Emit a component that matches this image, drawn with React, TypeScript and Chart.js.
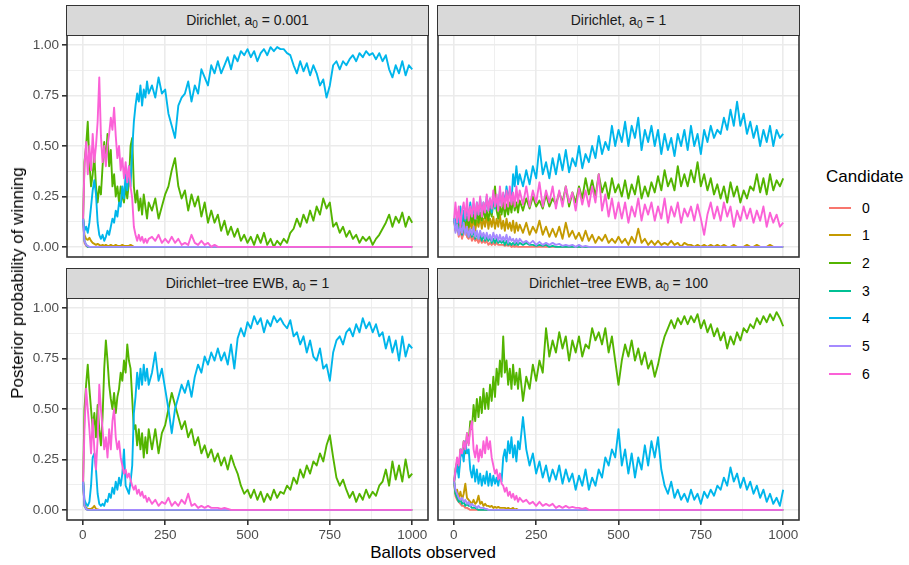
import React, { useEffect, useRef } from "react";
import { Chart, registerables } from "chart.js";

Chart.register(...registerables);

const FONT = '"Liberation Sans", Arial, Helvetica, sans-serif';

const CANDIDATES = ["0", "1", "2", "3", "4", "5", "6"];
const COLORS = ["#F8766D", "#C49A00", "#53B400", "#00C094", "#00B6EB", "#A58AFF", "#FB61D7"];

// ballots at which the posterior is sampled (dense early on)
const BALLOTS = [
  1, 5, 10, 15, 20, 25, 30, 35, 40, 45, 50, 55, 60, 65, 70, 75, 80, 85, 90, 95,
  100, 105, 110, 115, 120, 125, 130, 135, 140, 145, 150, 155, 160, 165, 170, 175, 180, 185, 190, 195, 200,
  210, 220, 230, 240, 250, 260, 270, 280, 290, 300,
  310, 320, 330, 340, 350, 360, 370, 380, 390, 400,
  410, 420, 430, 440, 450, 460, 470, 480, 490, 500,
  510, 520, 530, 540, 550, 560, 570, 580, 590, 600,
  610, 620, 630, 640, 650, 660, 670, 680, 690, 700,
  710, 720, 730, 740, 750, 760, 770, 780, 790, 800,
  810, 820, 830, 840, 850, 860, 870, 880, 890, 900,
  910, 920, 930, 940, 950, 960, 970, 980, 990, 1000,
];
const LAST_BALLOT = 1000;

const X_TICKS = [0, 125, 250, 375, 500, 625, 750, 875, 1000];
const X_LABELED = [0, 250, 500, 750, 1000];
const Y_TICKS = [0, 0.125, 0.25, 0.375, 0.5, 0.625, 0.75, 0.875, 1];
const Y_LABELED = [0, 0.25, 0.5, 0.75, 1];

// ---------- Dirichlet, a0 = 0.001 ----------
const tl0 = [0.14, 0.02, 0.005, 0];
const tl1 = [0.14, 0.06, 0.04, 0.035, 0.045, 0.03, 0.02, 0.015, 0.01, 0.015, 0.01, 0.005, 0.01, 0.005, 0.01, 0.005, 0.005, 0.01, 0.005, 0.005, 0.01, 0.005, 0.005, 0.005, 0.01, 0.005, 0.005, 0.005, 0.005, 0.01, 0.005, 0];
const tl2 = [
  0.14, 0.42, 0.5, 0.62, 0.42, 0.3, 0.36, 0.45, 0.3, 0.22, 0.3, 0.26, 0.4, 0.52, 0.42, 0.56, 0.4, 0.48, 0.3, 0.36,
  0.25, 0.3, 0.22, 0.3, 0.25, 0.22, 0.3, 0.24, 0.32, 0.5, 0.54, 0.3, 0.22, 0.28, 0.18, 0.24, 0.16, 0.26, 0.2, 0.14, 0.22,
  0.18, 0.24, 0.14, 0.2, 0.26, 0.3, 0.38, 0.44, 0.3, 0.24,
  0.28, 0.18, 0.26, 0.2, 0.25, 0.15, 0.22, 0.12, 0.18, 0.12,
  0.16, 0.08, 0.13, 0.06, 0.1, 0.05, 0.09, 0.03, 0.06, 0.02,
  0.05, 0.01, 0.06, 0.02, 0.07, 0.01, 0.04, 0.0, 0.03, 0.01,
  0.04, 0.02, 0.07, 0.09, 0.14, 0.1, 0.16, 0.12, 0.18, 0.13,
  0.2, 0.16, 0.24, 0.19, 0.22, 0.1, 0.12, 0.07, 0.1, 0.05,
  0.08, 0.04, 0.06, 0.02, 0.05, 0.03, 0.05, 0.01, 0.04, 0.06,
  0.09, 0.12, 0.16, 0.1, 0.15, 0.12, 0.17, 0.1, 0.15, 0.12,
];
const tl3 = [0.14, 0.03, 0.01, 0];
const tl4 = [
  0.14, 0.08, 0.1, 0.07, 0.12, 0.2, 0.28, 0.33, 0.26, 0.12, 0.06, 0.04, 0.06, 0.03, 0.05, 0.08, 0.06, 0.1, 0.14, 0.12,
  0.18, 0.15, 0.22, 0.2, 0.3, 0.24, 0.36, 0.28, 0.4, 0.3, 0.48, 0.62, 0.7, 0.76, 0.72, 0.8, 0.7, 0.78, 0.74, 0.82, 0.76,
  0.8, 0.74, 0.84, 0.76, 0.78, 0.66, 0.6, 0.54, 0.7, 0.74,
  0.76, 0.82, 0.72, 0.8, 0.76, 0.88, 0.84, 0.8, 0.9, 0.86,
  0.92, 0.86, 0.9, 0.94, 0.88, 0.95, 0.92, 0.97, 0.95, 0.98,
  0.94, 0.97, 0.92, 0.96, 0.98, 0.95, 0.99, 0.97, 0.99, 0.98,
  0.98, 0.96, 0.95, 0.9, 0.86, 0.92, 0.87, 0.91, 0.85, 0.9,
  0.86, 0.8, 0.83, 0.74, 0.8, 0.9, 0.92, 0.88, 0.92, 0.9,
  0.93, 0.95, 0.92, 0.96, 0.94, 0.97, 0.95, 0.96, 0.93, 0.96,
  0.92, 0.95, 0.88, 0.84, 0.9, 0.86, 0.92, 0.85, 0.9, 0.88,
];
const tl5 = [0.14, 0.03, 0.01, 0.005, 0];
const tl6 = [
  0.14, 0.4, 0.52, 0.36, 0.5, 0.38, 0.56, 0.42, 0.5, 0.62, 0.84, 0.55, 0.42, 0.5, 0.4, 0.5, 0.56, 0.64, 0.58, 0.69,
  0.55, 0.44, 0.5, 0.38, 0.44, 0.34, 0.42, 0.32, 0.4, 0.3, 0.24, 0.1, 0.06, 0.03, 0.06, 0.03, 0.05, 0.02, 0.04, 0.02, 0.04,
  0.05, 0.03, 0.06, 0.02, 0.04, 0.02, 0.05, 0.02, 0.04, 0.01,
  0.02, 0.01, 0.06, 0.02, 0.01, 0.03, 0.01, 0.02, 0, 0.01,
  0,
];

// ---------- Dirichlet, a0 = 1 ----------
const tr0 = [0.14, 0.08, 0.1, 0.05, 0.08, 0.04, 0.07, 0.1, 0.05, 0.04, 0.06, 0.03, 0.05, 0.03, 0.04, 0.02, 0.04, 0.02, 0.03, 0.02, 0.03, 0.01, 0.02, 0.01, 0.02, 0.01, 0.02, 0.01, 0.01, 0.01, 0.01, 0.005, 0.01, 0.005, 0.01, 0, 0.005, 0, 0.005, 0, 0];
const tr1 = [
  0.14, 0.08, 0.12, 0.07, 0.13, 0.09, 0.14, 0.08, 0.12, 0.07, 0.13, 0.09, 0.15, 0.08, 0.13, 0.1, 0.15, 0.09, 0.14, 0.1,
  0.16, 0.09, 0.14, 0.1, 0.15, 0.09, 0.14, 0.1, 0.16, 0.09, 0.13, 0.08, 0.14, 0.09, 0.12, 0.08, 0.13, 0.07, 0.12, 0.08, 0.11,
  0.07, 0.12, 0.06, 0.1, 0.07, 0.13, 0.06, 0.1, 0.05, 0.09,
  0.05, 0.1, 0.04, 0.12, 0.05, 0.08, 0.04, 0.07, 0.03, 0.08,
  0.03, 0.06, 0.02, 0.05, 0.03, 0.06, 0.02, 0.04, 0.02, 0.05,
  0.02, 0.04, 0.01, 0.05, 0.02, 0.09, 0.02, 0.04, 0.01, 0.03,
  0.01, 0.03, 0.01, 0.02, 0.01, 0.03, 0.01, 0.02, 0, 0.02,
  0.01, 0.01, 0, 0.01, 0, 0.01, 0, 0.01, 0, 0.01,
  0, 0.01, 0, 0, 0.01, 0, 0, 0, 0.01, 0,
  0, 0.01, 0, 0, 0, 0.01, 0, 0, 0, 0,
];
const tr2 = [
  0.14, 0.1, 0.15, 0.09, 0.14, 0.1, 0.16, 0.11, 0.15, 0.1, 0.17, 0.12, 0.16, 0.11, 0.18, 0.12, 0.17, 0.13, 0.2, 0.14,
  0.18, 0.13, 0.19, 0.15, 0.22, 0.3, 0.18, 0.14, 0.2, 0.16, 0.22, 0.15, 0.21, 0.16, 0.22, 0.17, 0.24, 0.18, 0.22, 0.17, 0.23,
  0.18, 0.24, 0.19, 0.25, 0.2, 0.23, 0.19, 0.26, 0.2, 0.24,
  0.21, 0.27, 0.22, 0.3, 0.2, 0.27, 0.22, 0.3, 0.24, 0.34,
  0.26, 0.33, 0.25, 0.36, 0.27, 0.32, 0.24, 0.34, 0.27, 0.31,
  0.25, 0.33, 0.24, 0.31, 0.26, 0.35, 0.24, 0.3, 0.25, 0.32,
  0.27, 0.35, 0.28, 0.38, 0.3, 0.34, 0.28, 0.4, 0.3, 0.36,
  0.3, 0.38, 0.32, 0.42, 0.3, 0.36, 0.28, 0.34, 0.26, 0.31,
  0.24, 0.3, 0.22, 0.32, 0.25, 0.3, 0.22, 0.28, 0.24, 0.3,
  0.28, 0.36, 0.27, 0.34, 0.26, 0.36, 0.28, 0.33, 0.3, 0.34,
];
const tr3 = [
  0.14, 0.09, 0.12, 0.07, 0.11, 0.06, 0.1, 0.07, 0.09, 0.05, 0.08, 0.05, 0.08, 0.04, 0.07, 0.04, 0.06, 0.03, 0.06, 0.03,
  0.05, 0.03, 0.05, 0.02, 0.04, 0.02, 0.04, 0.02, 0.03, 0.02, 0.03, 0.01, 0.03, 0.01, 0.02, 0.01, 0.02, 0.01, 0.02, 0.01, 0.02,
  0.01, 0.02, 0.01, 0.01, 0.005, 0.01, 0.005, 0.01, 0, 0.005, 0,
];
const tr4 = [
  0.14, 0.1, 0.17, 0.12, 0.2, 0.11, 0.18, 0.13, 0.2, 0.14, 0.22, 0.15, 0.2, 0.14, 0.22, 0.16, 0.24, 0.16, 0.22, 0.17,
  0.25, 0.18, 0.24, 0.17, 0.26, 0.19, 0.24, 0.2, 0.28, 0.21, 0.26, 0.22, 0.3, 0.24, 0.28, 0.22, 0.36, 0.3, 0.4, 0.31, 0.36,
  0.3, 0.38, 0.31, 0.4, 0.34, 0.5, 0.36, 0.42, 0.34, 0.44,
  0.36, 0.46, 0.38, 0.48, 0.37, 0.44, 0.4, 0.5, 0.39, 0.46,
  0.42, 0.5, 0.44, 0.55, 0.46, 0.52, 0.48, 0.6, 0.5, 0.58,
  0.52, 0.62, 0.5, 0.6, 0.54, 0.64, 0.48, 0.58, 0.52, 0.6,
  0.5, 0.58, 0.46, 0.56, 0.48, 0.54, 0.45, 0.56, 0.5, 0.58,
  0.48, 0.6, 0.5, 0.56, 0.46, 0.58, 0.52, 0.6, 0.54, 0.58,
  0.56, 0.64, 0.58, 0.68, 0.6, 0.72, 0.6, 0.66, 0.56, 0.62,
  0.54, 0.6, 0.5, 0.58, 0.52, 0.6, 0.5, 0.58, 0.54, 0.56,
];
const tr5 = [
  0.14, 0.07, 0.11, 0.06, 0.1, 0.07, 0.12, 0.06, 0.1, 0.05, 0.09, 0.06, 0.1, 0.05, 0.08, 0.04, 0.08, 0.05, 0.07, 0.04,
  0.07, 0.04, 0.06, 0.03, 0.07, 0.04, 0.06, 0.03, 0.06, 0.03, 0.05, 0.03, 0.06, 0.02, 0.05, 0.03, 0.04, 0.02, 0.04, 0.02, 0.04,
  0.02, 0.03, 0.015, 0.03, 0.01, 0.025, 0.01, 0.02, 0.01, 0.02,
  0.01, 0.015, 0.005, 0.01, 0.005, 0.01, 0, 0.01, 0, 0.005,
  0,
];
const tr6 = [
  0.14, 0.22, 0.12, 0.2, 0.1, 0.18, 0.22, 0.14, 0.24, 0.13, 0.2, 0.15, 0.24, 0.14, 0.22, 0.16, 0.25, 0.15, 0.22, 0.17,
  0.26, 0.18, 0.24, 0.19, 0.28, 0.2, 0.26, 0.18, 0.3, 0.2, 0.27, 0.19, 0.28, 0.2, 0.3, 0.21, 0.27, 0.2, 0.3, 0.22, 0.28,
  0.21, 0.3, 0.2, 0.28, 0.22, 0.32, 0.2, 0.28, 0.22, 0.3,
  0.19, 0.28, 0.2, 0.3, 0.22, 0.27, 0.18, 0.29, 0.21, 0.28,
  0.2, 0.3, 0.22, 0.36, 0.18, 0.26, 0.15, 0.24, 0.14, 0.22,
  0.14, 0.22, 0.12, 0.2, 0.15, 0.24, 0.13, 0.21, 0.16, 0.22,
  0.13, 0.2, 0.14, 0.24, 0.12, 0.2, 0.15, 0.22, 0.12, 0.19,
  0.15, 0.2, 0.13, 0.21, 0.14, 0.06, 0.16, 0.22, 0.14, 0.2,
  0.13, 0.22, 0.15, 0.2, 0.1, 0.18, 0.13, 0.2, 0.14, 0.19,
  0.12, 0.18, 0.13, 0.2, 0.1, 0.17, 0.12, 0.16, 0.1, 0.12,
];

// ---------- Dirichlet-tree EWB, a0 = 1 ----------
const bl0 = [0.14, 0.02, 0.005, 0];
const bl1 = [0.14, 0.03, 0.01, 0.005, 0.005, 0.005, 0.01, 0.02, 0.005, 0.003, 0];
const bl2 = [
  0.14, 0.5, 0.62, 0.72, 0.6, 0.5, 0.4, 0.48, 0.36, 0.52, 0.4, 0.32, 0.46, 0.7, 0.84, 0.74, 0.62, 0.55, 0.5, 0.58,
  0.48, 0.56, 0.6, 0.68, 0.64, 0.74, 0.68, 0.82, 0.74, 0.7, 0.55, 0.4, 0.42, 0.32, 0.4, 0.3, 0.38, 0.26, 0.36, 0.28, 0.4,
  0.3, 0.4, 0.28, 0.38, 0.42, 0.5, 0.58, 0.52, 0.46, 0.4,
  0.44, 0.36, 0.4, 0.32, 0.36, 0.28, 0.32, 0.26, 0.3, 0.24,
  0.28, 0.22, 0.26, 0.2, 0.27, 0.22, 0.18, 0.12, 0.08, 0.1,
  0.06, 0.1, 0.05, 0.09, 0.04, 0.08, 0.05, 0.1, 0.06, 0.09,
  0.08, 0.12, 0.1, 0.16, 0.13, 0.2, 0.16, 0.22, 0.18, 0.24,
  0.22, 0.28, 0.24, 0.32, 0.37, 0.26, 0.16, 0.12, 0.15, 0.1,
  0.06, 0.09, 0.04, 0.08, 0.05, 0.1, 0.06, 0.09, 0.07, 0.12,
  0.14, 0.2, 0.12, 0.24, 0.15, 0.22, 0.14, 0.25, 0.16, 0.18,
];
const bl3 = [0.14, 0.02, 0.005, 0];
const bl4 = [
  0.14, 0.05, 0.03, 0.02, 0.04, 0.12, 0.26, 0.28, 0.2, 0.08, 0.03, 0.02, 0.03, 0.02, 0.05, 0.04, 0.08, 0.06, 0.11, 0.08,
  0.14, 0.1, 0.16, 0.12, 0.18, 0.3, 0.12, 0.1, 0.08, 0.14, 0.22, 0.48, 0.56, 0.68, 0.6, 0.7, 0.62, 0.72, 0.64, 0.7, 0.62,
  0.68, 0.78, 0.64, 0.7, 0.6, 0.5, 0.38, 0.5, 0.56, 0.62,
  0.58, 0.64, 0.56, 0.66, 0.72, 0.68, 0.76, 0.72, 0.78, 0.74,
  0.8, 0.74, 0.78, 0.72, 0.82, 0.7, 0.85, 0.9, 0.86, 0.93,
  0.9, 0.96, 0.92, 0.95, 0.88, 0.94, 0.91, 0.96, 0.93, 0.95,
  0.92, 0.9, 0.94, 0.86, 0.88, 0.82, 0.86, 0.78, 0.84, 0.76,
  0.74, 0.8, 0.7, 0.72, 0.64, 0.78, 0.84, 0.86, 0.82, 0.88,
  0.9, 0.86, 0.92, 0.88, 0.95, 0.9, 0.93, 0.88, 0.92, 0.86,
  0.88, 0.8, 0.86, 0.78, 0.84, 0.74, 0.86, 0.76, 0.82, 0.8,
];
const bl5 = [0.14, 0.02, 0.005, 0];
const bl6 = [
  0.14, 0.4, 0.6, 0.5, 0.4, 0.28, 0.45, 0.3, 0.2, 0.35, 0.62, 0.5, 0.4, 0.3, 0.36, 0.26, 0.4, 0.3, 0.44, 0.5,
  0.36, 0.3, 0.34, 0.26, 0.22, 0.18, 0.2, 0.16, 0.18, 0.15, 0.12, 0.1, 0.12, 0.08, 0.1, 0.07, 0.09, 0.06, 0.07, 0.04, 0.06,
  0.03, 0.05, 0.02, 0.04, 0.03, 0.06, 0.02, 0.04, 0.02, 0.05,
  0.03, 0.08, 0.02, 0.03, 0.01, 0.02, 0.01, 0.02, 0.01, 0.01,
  0.01, 0.005, 0.01, 0.005, 0,
];

// ---------- Dirichlet-tree EWB, a0 = 100 ----------
const br0 = [0.14, 0.07, 0.05, 0.04, 0.03, 0.02, 0.02, 0.01, 0.01, 0.005, 0];
const br1 = [0.14, 0.08, 0.1, 0.06, 0.09, 0.05, 0.08, 0.13, 0.06, 0.05, 0.04, 0.03, 0.05, 0.03, 0.04, 0.07, 0.03, 0.04, 0.02, 0.03, 0.02, 0.02, 0.015, 0.02, 0.01, 0.015, 0.01, 0.015, 0.01, 0.01, 0.01, 0.01, 0.005, 0.01, 0.005, 0.005, 0.01, 0, 0.005, 0, 0];
const br2 = [
  0.14, 0.2, 0.24, 0.18, 0.3, 0.27, 0.34, 0.28, 0.38, 0.33, 0.44, 0.4, 0.52, 0.44, 0.55, 0.46, 0.56, 0.48, 0.6, 0.5,
  0.58, 0.5, 0.62, 0.54, 0.66, 0.56, 0.7, 0.62, 0.74, 0.66, 0.86, 0.68, 0.74, 0.62, 0.7, 0.6, 0.72, 0.62, 0.68, 0.6, 0.7,
  0.54, 0.66, 0.6, 0.72, 0.64, 0.74, 0.68, 0.9, 0.76, 0.84,
  0.78, 0.88, 0.8, 0.86, 0.74, 0.84, 0.78, 0.86, 0.76, 0.82,
  0.8, 0.9, 0.84, 0.88, 0.82, 0.9, 0.78, 0.86, 0.74, 0.62,
  0.74, 0.82, 0.76, 0.84, 0.74, 0.8, 0.72, 0.78, 0.7, 0.74,
  0.66, 0.72, 0.8, 0.86, 0.9, 0.94, 0.9, 0.95, 0.92, 0.96,
  0.92, 0.96, 0.93, 0.97, 0.9, 0.94, 0.88, 0.92, 0.86, 0.9,
  0.84, 0.88, 0.8, 0.86, 0.82, 0.88, 0.84, 0.9, 0.88, 0.92,
  0.9, 0.95, 0.92, 0.96, 0.93, 0.97, 0.94, 0.98, 0.95, 0.91,
];
const br3 = [0.14, 0.08, 0.06, 0.04, 0.05, 0.03, 0.04, 0.02, 0.03, 0.02, 0.02, 0.01, 0.01, 0.01, 0.005, 0];
const br4 = [
  0.14, 0.18, 0.22, 0.16, 0.26, 0.3, 0.24, 0.34, 0.28, 0.3, 0.2, 0.16, 0.22, 0.14, 0.2, 0.13, 0.18, 0.12, 0.17, 0.13,
  0.19, 0.12, 0.18, 0.12, 0.17, 0.13, 0.16, 0.12, 0.18, 0.14, 0.26, 0.3, 0.24, 0.34, 0.28, 0.36, 0.26, 0.32, 0.24, 0.34, 0.3,
  0.46, 0.3, 0.22, 0.28, 0.18, 0.24, 0.16, 0.22, 0.14, 0.2,
  0.15, 0.22, 0.13, 0.2, 0.14, 0.18, 0.1, 0.17, 0.12, 0.2,
  0.1, 0.16, 0.12, 0.2, 0.16, 0.26, 0.22, 0.3, 0.26, 0.4,
  0.22, 0.3, 0.18, 0.28, 0.16, 0.26, 0.2, 0.32, 0.22, 0.34,
  0.26, 0.36, 0.2, 0.12, 0.08, 0.14, 0.06, 0.1, 0.05, 0.08,
  0.04, 0.1, 0.05, 0.08, 0.03, 0.09, 0.06, 0.1, 0.07, 0.12,
  0.1, 0.16, 0.12, 0.21, 0.14, 0.18, 0.11, 0.16, 0.1, 0.14,
  0.08, 0.12, 0.06, 0.1, 0.04, 0.08, 0.03, 0.06, 0.02, 0.1,
];
const br5 = [0.14, 0.1, 0.08, 0.06, 0.05, 0.06, 0.04, 0.05, 0.03, 0.04, 0.02, 0.03, 0.02, 0.02, 0.01, 0.02, 0.01, 0.01, 0.01, 0.005, 0.005, 0];
const br6 = [
  0.14, 0.2, 0.26, 0.22, 0.3, 0.28, 0.34, 0.3, 0.38, 0.32, 0.4, 0.44, 0.3, 0.26, 0.32, 0.24, 0.3, 0.26, 0.34, 0.28,
  0.36, 0.3, 0.34, 0.26, 0.22, 0.18, 0.2, 0.15, 0.18, 0.13, 0.12, 0.09, 0.11, 0.07, 0.09, 0.06, 0.08, 0.05, 0.07, 0.04, 0.06,
  0.04, 0.05, 0.03, 0.04, 0.02, 0.04, 0.02, 0.03, 0.02, 0.03,
  0.01, 0.02, 0.01, 0.02, 0.01, 0.015, 0.01, 0.01, 0.005, 0.01,
  0,
];

const PANEL_SERIES = [
  [tl0, tl1, tl2, tl3, tl4, tl5, tl6],
  [tr0, tr1, tr2, tr3, tr4, tr5, tr6],
  [bl0, bl1, bl2, bl3, bl4, bl5, bl6],
  [br0, br1, br2, br3, br4, br5, br6],
];

const STRIP_PREFIX = ["Dirichlet", "Dirichlet", "Dirichlet\u2212tree EWB", "Dirichlet\u2212tree EWB"];
const STRIP_A0 = ["0.001", "1", "1", "100"];

function toPoints(ys: number[]) {
  const pts = ys.map((y, i) => ({ x: BALLOTS[i], y }));
  if (ys.length < BALLOTS.length) pts.push({ x: LAST_BALLOT, y: ys[ys.length - 1] });
  return pts;
}

const isMajorX = (v: number) => X_LABELED.includes(v);
const isMajorY = (v: number) => Y_LABELED.some((t) => Math.abs(t - v) < 1e-9);

const framePlugin = {
  id: "panelFrame",
  afterDatasetsDraw(chart: any) {
    const { ctx, chartArea: a } = chart;
    ctx.save();
    ctx.strokeStyle = "#333333";
    ctx.lineWidth = 1.6;
    ctx.strokeRect(a.left, a.top, a.right - a.left, a.bottom - a.top);
    ctx.restore();
  },
};

type PanelProps = {
  series: number[][];
  left: number;
  top: number;
  width: number;
  height: number;
  showX: boolean;
  showY: boolean;
};

function Panel({ series, left, top, width, height, showX, showY }: PanelProps) {
  const ref = useRef<HTMLCanvasElement | null>(null);
  useEffect(() => {
    const datasets = series.map((ys, k) => ({
      label: CANDIDATES[k],
      data: toPoints(ys),
      borderColor: COLORS[k],
      backgroundColor: COLORS[k],
      borderWidth: 1.9,
      borderJoinStyle: "round",
      pointRadius: 0,
      tension: 0,
      fill: false,
      order: 6 - k,
    }));
    const chart = new Chart(ref.current as HTMLCanvasElement, {
      type: "line",
      data: { datasets },
      plugins: [framePlugin],
      options: {
        responsive: false,
        animation: false,
        devicePixelRatio: 1,
        events: [],
        layout: {
          padding: { left: showY ? 0 : 1, right: 1, top: 1, bottom: showX ? 0 : 1 },
        },
        plugins: { legend: { display: false }, tooltip: { enabled: false } },
        scales: {
          x: {
            type: "linear",
            min: -48,
            max: 1048,
            afterBuildTicks: (s: any) => {
              s.ticks = X_TICKS.map((v) => ({ value: v }));
            },
            afterFit: (s: any) => {
              s.height = showX ? 22 : 0;
              s.paddingLeft = 0;
              s.paddingRight = 0;
              s.paddingTop = 0;
              s.paddingBottom = 0;
            },
            ticks: {
              display: showX,
              autoSkip: false,
              maxRotation: 0,
              minRotation: 0,
              padding: 2,
              color: "#4D4D4D",
              font: { family: FONT, size: 13.5 },
              callback: (v: any) => (isMajorX(Number(v)) ? String(v) : ""),
            },
            grid: {
              color: "#EBEBEB",
              lineWidth: (c: any) => (c.tick && isMajorX(c.tick.value) ? 1.6 : 0.8),
              drawTicks: showX,
              tickLength: 5,
              tickWidth: 1.6,
              tickColor: (c: any) => (c.tick && isMajorX(c.tick.value) ? "#333333" : "rgba(0,0,0,0)"),
            },
            border: { display: false },
          },
          y: {
            type: "linear",
            min: -0.05,
            max: 1.05,
            afterBuildTicks: (s: any) => {
              s.ticks = Y_TICKS.map((v) => ({ value: v }));
            },
            afterFit: (s: any) => {
              s.width = showY ? 67 : 0;
              s.paddingLeft = 0;
              s.paddingRight = 0;
              s.paddingTop = 0;
              s.paddingBottom = 0;
            },
            ticks: {
              display: showY,
              autoSkip: false,
              padding: 3,
              color: "#4D4D4D",
              font: { family: FONT, size: 13.5 },
              callback: (v: any) => (isMajorY(Number(v)) ? Number(v).toFixed(2) : ""),
            },
            grid: {
              color: "#EBEBEB",
              lineWidth: (c: any) => (c.tick && isMajorY(c.tick.value) ? 1.6 : 0.8),
              drawTicks: showY,
              tickLength: 5,
              tickWidth: 1.6,
              tickColor: (c: any) => (c.tick && isMajorY(c.tick.value) ? "#333333" : "rgba(0,0,0,0)"),
            },
            border: { display: false },
          },
        },
      } as any,
    });
    return () => chart.destroy();
  }, []);
  return (
    <canvas
      ref={ref}
      width={width}
      height={height}
      style={{ position: "absolute", left, top, width, height }}
    />
  );
}

function Strip({ left, top, idx }: { left: number; top: number; idx: number }) {
  return (
    <div
      style={{
        position: "absolute",
        left,
        top,
        width: 362.6,
        height: 30.8,
        boxSizing: "border-box",
        border: "1.6px solid #333333",
        background: "#D9D9D9",
        color: "#1A1A1A",
        fontSize: 14,
        display: "flex",
        alignItems: "center",
        justifyContent: "center",
        whiteSpace: "nowrap",
      }}
    >
      <span>
        {STRIP_PREFIX[idx]}, a
        <sub style={{ fontSize: 10, verticalAlign: "-3px", lineHeight: 0 }}>0</sub>
        {" = " + STRIP_A0[idx]}
      </span>
    </div>
  );
}

export default function App() {
  const panelGeom = [
    { left: 0, top: 34, width: 429, height: 224, showX: false, showY: true },
    { left: 437, top: 34, width: 363, height: 224, showX: false, showY: false },
    { left: 0, top: 297, width: 429, height: 245, showX: true, showY: true },
    { left: 437, top: 297, width: 363, height: 245, showX: true, showY: false },
  ];
  const stripPos = [
    { left: 66.2, top: 5 },
    { left: 437.2, top: 5 },
    { left: 66.2, top: 268 },
    { left: 437.2, top: 268 },
  ];
  return (
    <div
      style={{
        position: "fixed",
        left: 0,
        top: 0,
        width: 909,
        height: 565,
        background: "#FFFFFF",
        fontFamily: FONT,
        overflow: "hidden",
      }}
    >
      {panelGeom.map((g, i) => (
        <Panel key={"p" + i} series={PANEL_SERIES[i]} {...g} />
      ))}
      {stripPos.map((p, i) => (
        <Strip key={"s" + i} left={p.left} top={p.top} idx={i} />
      ))}
      <div
        style={{
          position: "absolute",
          left: 18,
          top: 283,
          transform: "translate(-50%, -50%) rotate(-90deg)",
          whiteSpace: "nowrap",
          fontSize: 17,
          lineHeight: "20px",
          color: "#000000",
        }}
      >
        Posterior probability of winning
      </div>
      <div
        style={{
          position: "absolute",
          left: 0,
          width: 866,
          top: 543,
          textAlign: "center",
          fontSize: 17,
          lineHeight: "20px",
          color: "#000000",
        }}
      >
        Ballots observed
      </div>
      <div
        style={{
          position: "absolute",
          left: 826,
          top: 167.4,
          fontSize: 17,
          lineHeight: "20px",
          color: "#000000",
        }}
      >
        Candidate
      </div>
      {CANDIDATES.map((c, k) => {
        const y = Math.round(207.7 + 27.67 * k);
        return (
          <React.Fragment key={"l" + k}>
            <div
              style={{
                position: "absolute",
                left: 829,
                top: y - 1,
                width: 22,
                height: 2,
                background: COLORS[k],
              }}
            />
            <div
              style={{
                position: "absolute",
                left: 862,
                top: y - 7,
                fontSize: 14,
                lineHeight: "14px",
                color: "#000000",
              }}
            >
              {c}
            </div>
          </React.Fragment>
        );
      })}
    </div>
  );
}
